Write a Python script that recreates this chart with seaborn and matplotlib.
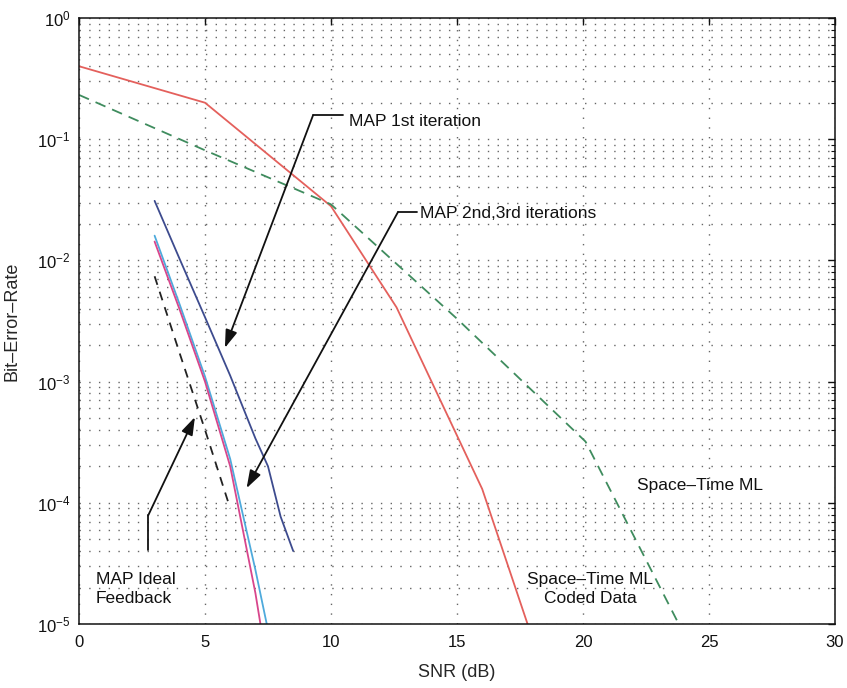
import matplotlib
matplotlib.use("Agg")
import matplotlib.pyplot as plt
import numpy as np
import pandas as pd
import seaborn as sns
from matplotlib.ticker import LogLocator, FixedLocator, NullLocator

# ---- BER curves (SNR in dB) ----
snr_st_coded = [0, 5, 10, 12.6, 16, 17.8]
ber_st_coded = [0.40, 0.20, 0.028, 0.0041, 1.3e-4, 1.0e-5]

snr_st_ml = [0, 5, 10, 15, 20.1, 23.8]
ber_st_ml = [0.232, 0.081, 0.029, 0.0033, 3.2e-4, 1.0e-5]

snr_map1 = [3, 4, 5, 6, 7, 7.5, 8, 8.5]
ber_map1 = [0.031, 0.0102, 0.0034, 0.00112, 3.4e-4, 2.0e-4, 7.7e-5, 4.0e-5]

snr_map2 = [3, 4, 5, 6, 7, 7.45]
ber_map2 = [0.016, 4.3e-3, 1.1e-3, 2.3e-4, 2.8e-5, 1.0e-5]

snr_map3 = [3, 4, 5, 6, 7, 7.2]
ber_map3 = [0.0143, 3.9e-3, 1.0e-3, 2.0e-4, 1.8e-5, 1.0e-5]

snr_ideal = [3, 4, 5, 6]
ber_ideal = [0.0074, 1.7e-3, 4.0e-4, 9.0e-5]

x_ticks = [0, 5, 10, 15, 20, 25, 30]

sns.set_style("white")
plt.rcParams["font.family"] = ["Liberation Sans", "DejaVu Sans"]
plt.rcParams["mathtext.default"] = "regular"

fig = plt.figure(figsize=(8.47, 6.88), dpi=100)
ax = fig.add_axes([79 / 847, 1 - 624 / 688, (835 - 79) / 847, (624 - 18) / 688])

curves = [
    (snr_st_coded, ber_st_coded, "#e4605c", "-"),
    (snr_st_ml, ber_st_ml, "#3f8c5e", (0, (6, 4))),
    (snr_map1, ber_map1, "#3d4b8e", "-"),
    (snr_map2, ber_map2, "#4eaadc", "-"),
    (snr_map3, ber_map3, "#d8468c", "-"),
    (snr_ideal, ber_ideal, "#222222", (0, (5, 4))),
]
for xs, ys, col, ls in curves:
    df = pd.DataFrame({"snr": xs, "ber": ys})
    sns.lineplot(data=df, x="snr", y="ber", ax=ax, color=col, linestyle=ls,
                 linewidth=1.3, sort=False, estimator=None)

ax.set_yscale("log")
ax.set_xlim(0, 30)
ax.set_ylim(1e-5, 1)
ax.xaxis.set_major_locator(FixedLocator(x_ticks))
ax.xaxis.set_minor_locator(NullLocator())
ax.yaxis.set_major_locator(LogLocator(base=10, numticks=10))
ax.yaxis.set_minor_locator(LogLocator(base=10, subs=np.arange(2, 10), numticks=20))

grid_kw = dict(color="#666666", linestyle=(0, (1, 6)), linewidth=1.0)
ax.grid(True, which="major", axis="both", **grid_kw)
ax.grid(True, which="minor", axis="y", **grid_kw)

ax.tick_params(which="both", direction="in", top=True, right=True,
               labelsize=12, colors="#111111")
ax.tick_params(which="major", length=5, width=1)
ax.tick_params(which="minor", length=3, width=0.8)
ax.tick_params(axis="x", pad=8)
ax.tick_params(axis="y", pad=6)
for s in ax.spines.values():
    s.set_visible(True)
    s.set_color("#111111")
    s.set_linewidth(1.1)

ax.set_xlabel("SNR (dB)", fontsize=13, labelpad=10)
ax.set_ylabel("Bit–Error–Rate", fontsize=13, labelpad=12)

# ---- callouts ----
akw = dict(color="#111111", linewidth=1.3)
head = dict(arrowstyle="-|>,head_length=0.9,head_width=0.3", color="#111111",
            lw=1.3, shrinkA=0, shrinkB=0, mutation_scale=12)

# MAP 1st iteration
ax.plot([10.48, 9.29], [0.158, 0.158], **akw)
ax.annotate("", xy=(5.79, 1.9e-3), xytext=(9.29, 0.158), arrowprops=head)
ax.text(10.71, 0.139, "MAP 1st iteration", fontsize=12.5, va="center", ha="left",
        color="#111111")

# MAP 2nd,3rd iterations
ax.plot([13.41, 12.66], [0.0251, 0.0251], **akw)
ax.annotate("", xy=(6.65, 1.32e-4), xytext=(12.66, 0.0251), arrowprops=head)
ax.text(13.53, 0.0245, "MAP 2nd,3rd iterations", fontsize=12.5, va="center", ha="left",
        color="#111111")

# MAP ideal feedback
ax.plot([2.75, 2.75], [4.1e-5, 7.9e-5], **akw)
ax.annotate("", xy=(4.60, 5.1e-4), xytext=(2.75, 7.9e-5), arrowprops=head)
ax.text(0.67, 1.95e-5, "MAP Ideal\nFeedback", fontsize=12.5, va="center", ha="left",
        linespacing=1.35, color="#111111")

ax.text(22.14, 1.40e-4, "Space–Time ML", fontsize=12.5, va="center", ha="left",
        color="#111111")
ax.text(20.28, 1.95e-5, "Space–Time ML\nCoded Data", fontsize=12.5, va="center",
        ha="center", multialignment="center", linespacing=1.35, color="#111111")

fig.savefig("out.png", dpi=100, facecolor="white")
